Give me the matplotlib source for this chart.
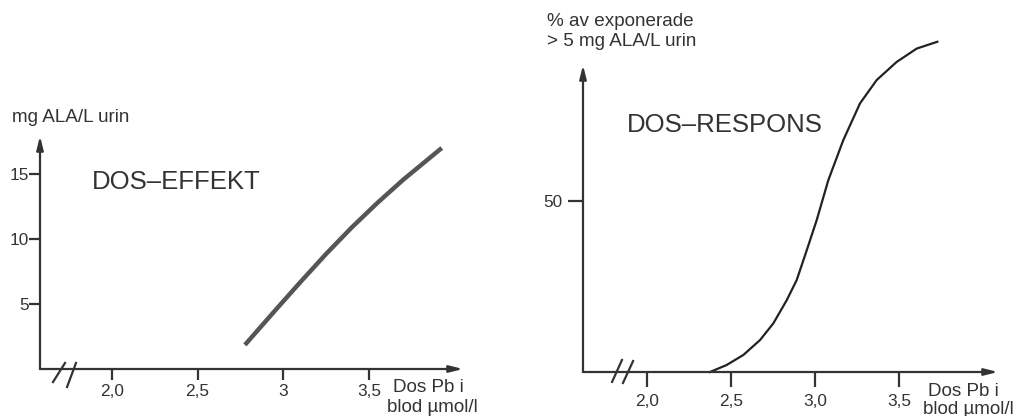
import matplotlib
matplotlib.use("Agg")
import matplotlib.pyplot as plt

plt.rcParams['font.family'] = ['Liberation Sans', 'DejaVu Sans']

# ---- data ----
effekt_x = [2.776, 2.95, 3.10, 3.25, 3.40, 3.55, 3.70, 3.925]
effekt_y = [1.85, 4.46, 6.68, 8.84, 10.88, 12.77, 14.54, 16.98]
effekt_yticks = [5, 10, 15]
effekt_xticks = [2.0, 2.5, 3.0, 3.5]
effekt_xticklabels = ["2,0", "2,5", "3", "3,5"]

respons_x = [2.375, 2.474, 2.573, 2.673, 2.752, 2.832, 2.891, 2.951, 3.010,
             3.079, 3.168, 3.268, 3.367, 3.486, 3.605, 3.728]
respons_y = [0, 2.05, 4.97, 9.36, 14.24, 21.05, 26.9, 35.67, 44.44,
             56.1, 67.8, 78.6, 85.4, 90.7, 94.6, 96.6]
respons_yticks = [50]
respons_xticks = [2.0, 2.5, 3.0, 3.5]
respons_xticklabels = ["2,0", "2,5", "3,0", "3,5"]

W, H = 1032, 416
fig = plt.figure(figsize=(W / 100, H / 100), dpi=100)
C = '#333333'


def ax_at(x0, y0, x1, y1):
    # pixel box: left, top, right, bottom
    return fig.add_axes([x0 / W, 1 - y1 / H, (x1 - x0) / W, (y1 - y0) / H])


def style(ax, xlim, ylim, xt, xtl, yt, xtlen, xpad, ytlen, ypad):
    ax.set_xlim(*xlim)
    ax.set_ylim(*ylim)
    for s in ax.spines.values():
        s.set_visible(False)
    ax.set_xticks(xt)
    ax.set_xticklabels(xtl)
    ax.set_yticks(yt)
    ax.tick_params(axis='x', direction='out', length=xtlen, width=1.6, color=C,
                   labelsize=12.4, labelcolor=C, pad=xpad)
    ax.tick_params(axis='y', direction='out', length=ytlen, width=1.6, color=C,
                   labelsize=12.4, labelcolor=C, pad=ypad)
    ax.patch.set_alpha(0)
    ap = dict(arrowstyle='-|>,head_length=0.8,head_width=0.2', color=C, lw=1.6,
              shrinkA=0, shrinkB=0)
    ax.annotate('', xy=(1, 0), xytext=(0, 0), xycoords='axes fraction',
                textcoords='axes fraction', arrowprops=ap, annotation_clip=False)
    ax.annotate('', xy=(0, 1), xytext=(0, 0), xycoords='axes fraction',
                textcoords='axes fraction', arrowprops=ap, annotation_clip=False)


# ---- left panel ----
axL = ax_at(40, 136, 463, 369)
style(axL, (1.58, 4.049), (0, 17.9), effekt_xticks, effekt_xticklabels,
      effekt_yticks, 8, 3, 8, 0)
axL.plot(effekt_x, effekt_y, color='#555555', lw=3.2, solid_capstyle='butt',
         solid_joinstyle='round', clip_on=False)
for (xa, ya, xb, yb) in [(1.656, -1.0, 1.726, 0.46), (1.738, -1.38, 1.790, 0.46)]:
    axL.plot([xa, xb], [ya, yb], color=C, lw=1.6, clip_on=False)

fig.text(12 / W, 1 - 117 / H, "mg ALA/L urin", fontsize=13.6, color=C,
         ha='left', va='center')
fig.text(92 / W, 1 - 182 / H, "DOS\u2013EFFEKT", fontsize=18.5, color=C,
         ha='left', va='center')
fig.text(393 / W, 1 - 387 / H, "Dos Pb i", fontsize=13.6, color=C,
         ha='left', va='center')
fig.text(387 / W, 1 - 408 / H, "blod \u00b5mol/l", fontsize=13.6, color=C,
         ha='left', va='center')

# ---- right panel ----
axR = ax_at(583, 65, 998, 372)
style(axR, (1.619, 4.089), (0, 89.8), respons_xticks, respons_xticklabels,
      respons_yticks, 11, 5, 11, 4)
axR.plot(respons_x, respons_y, color='#222222', lw=1.6, solid_joinstyle='round',
         clip_on=False)
for (xa, ya, xb, yb) in [(1.792, -2.9, 1.851, 3.5), (1.857, -3.2, 1.917, 3.2)]:
    axR.plot([xa, xb], [ya, yb], color=C, lw=1.6, clip_on=False)

fig.text(547 / W, 1 - 22 / H, "% av exponerade", fontsize=13.6, color=C,
         ha='left', va='center')
fig.text(547 / W, 1 - 42 / H, "> 5 mg ALA/L urin", fontsize=13.6, color=C,
         ha='left', va='center')
fig.text(627 / W, 1 - 125 / H, "DOS\u2013RESPONS", fontsize=18.5, color=C,
         ha='left', va='center')
fig.text(928 / W, 1 - 392 / H, "Dos Pb i", fontsize=13.6, color=C,
         ha='left', va='center')
fig.text(923 / W, 1 - 409 / H, "blod \u00b5mol/l", fontsize=13.6, color=C,
         ha='left', va='center')

fig.savefig("out.png", dpi=100, facecolor='white')
